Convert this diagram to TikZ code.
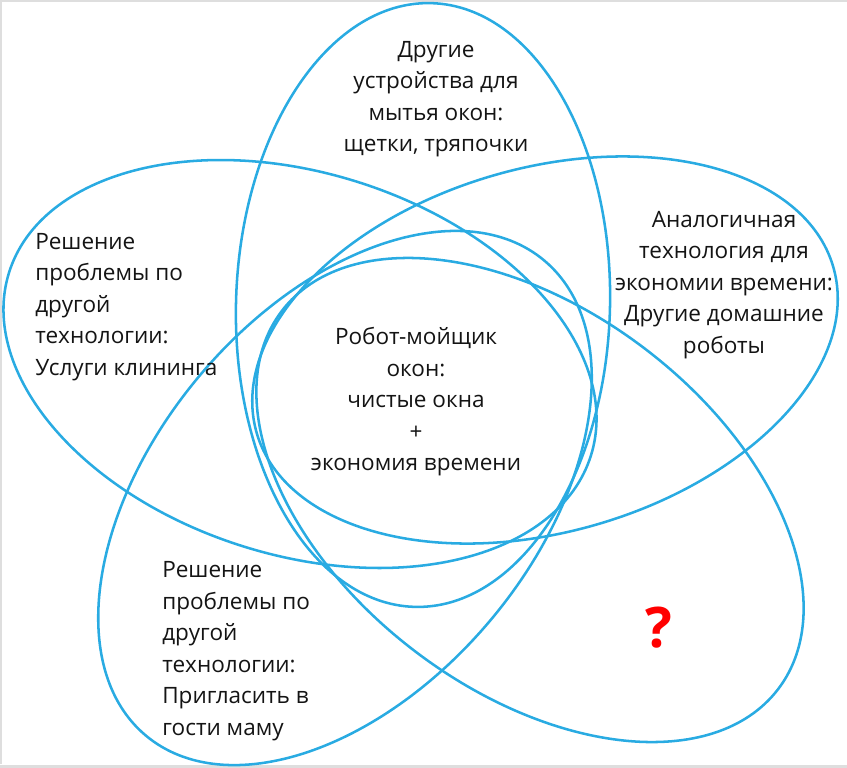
\documentclass[tikz,border=0pt]{standalone}
\usepackage{fontspec}
\setmainfont{Open Sans}
\usepackage{tikz}

\definecolor{vennblue}{RGB}{41,171,226}
\definecolor{framegray}{RGB}{222,222,222}
\definecolor{textgray}{RGB}{20,20,20}

\begin{document}
\begin{tikzpicture}[x=0.75pt,y=0.75pt,yscale=-1,xscale=1,
  petal/.style={draw=vennblue,line width=1.9pt},
  petaltext/.style={inner sep=0pt,text=textgray,font=\fontsize{16.9}{23.6}\selectfont},
  qmark/.style={inner sep=0pt,text=red,font=\fontsize{42}{50}\selectfont\bfseries}]
\useasboundingbox (0,0) rectangle (847,768);

%Frame
\fill [framegray] (0,764.5) rectangle (847,768) ;
\draw [framegray,line width=1.2pt] (0.8,764) -- (0.8,0.8) -- (847,0.8) ;

%Shape: Ellipse (top)
\draw [petal,rotate around={-88.4:(423,305)}] (423,305) ellipse [x radius=302, y radius=187] ;
%Shape: Ellipse (left)
\draw [petal,rotate around={17.5:(300,364)}] (300,364) ellipse [x radius=305, y radius=191] ;
%Shape: Ellipse (right)
\draw [petal,rotate around={-16:(545,350)}] (545,350) ellipse [x radius=300, y radius=182] ;
%Shape: Ellipse (bottom right)
\draw [petal,rotate around={37.3:(530,500)}] (530,500) ellipse [x radius=312, y radius=190] ;
%Shape: Ellipse (bottom left)
\draw [petal,rotate around={-50:(345,498)}] (345,498) ellipse [x radius=310, y radius=190] ;

% Text Node
\node [petaltext,align=center] (devices) at (436,99) {Другие\\устройства для\\мытья окон:\\щетки, тряпочки};
% Text Node
\node [petaltext,align=left,anchor=west] (cleaning) at (35,307) {Решение\\проблемы по\\другой\\технологии:\\Услуги клининга};
% Text Node
\node [petaltext,align=center] (robots) at (724,285) {Аналогичная\\технология для\\экономии времени:\\Другие домашние\\роботы};
% Text Node
\node [petaltext,align=center] (washer) at (416,402) {Робот-мойщик\\окон:\\чистые окна\\+\\экономия времени};
% Text Node
\node [petaltext,align=left,anchor=west] (mother) at (162,651) {Решение\\проблемы по\\другой\\технологии:\\Пригласить в\\гости маму};
% Text Node
\node [qmark] (unknown) at (659,628) {?};

\end{tikzpicture}
\end{document}
